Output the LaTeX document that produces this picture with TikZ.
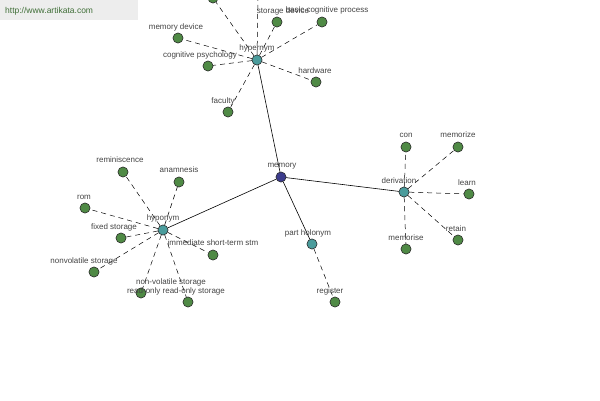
\documentclass[tikz,border=0pt]{standalone}
\usepackage{fontspec}
\setmainfont{Liberation Sans}
\definecolor{leafc}{HTML}{4F8A45}
\definecolor{midc}{HTML}{4A9C9C}
\definecolor{rootc}{HTML}{3C3C8C}
\definecolor{txt}{HTML}{444444}
\begin{document}
\begin{tikzpicture}[x=1pt,y=-1pt,
  leaf/.style={circle,draw=black!80,fill=leafc,inner sep=0pt,minimum size=10pt,line width=0.5pt},
  mid/.style={circle,draw=black!80,fill=midc,inner sep=0pt,minimum size=10pt,line width=0.5pt},
  root/.style={circle,draw=black!80,fill=rootc,inner sep=0pt,minimum size=10pt,line width=0.5pt},
  lbl/.style={font=\fontsize{8}{9}\selectfont,text=txt,inner sep=0pt},
  dsh/.style={dashed,dash pattern=on 5pt off 4pt,line width=0.5pt},
  sol/.style={line width=0.6pt}]
\useasboundingbox (0,0) rectangle (600,400);
\fill[white] (0,0) rectangle (600,400);
\fill[black!7] (0,0) rectangle (138,20);
\node[lbl,font=\fontsize{8.5}{9}\selectfont,text=leafc!80!black,anchor=west] (wm) at (5,11) {http://www.artikata.com};
% hub nodes
\node[root] (memory) at (281,177) {};
\node[mid] (hyper) at (257,60) {};
\node[mid] (hypo) at (163,230) {};
\node[mid] (deriv) at (404,192) {};
\node[mid] (part) at (312,244) {};
\draw[sol] (memory) -- (hyper);
\draw[sol] (memory) -- (hypo);
\draw[sol] (memory) -- (deriv);
\draw[sol] (memory) -- (part);
% hypernym leaves
\coordinate (top1) at (258,-8);
\node[leaf] (h0) at (213,-2) {};
\node[leaf] (h1) at (277,22) {};
\node[leaf] (h2) at (322,22) {};
\node[leaf] (h3) at (178,38) {};
\node[leaf] (h4) at (208,66) {};
\node[leaf] (h5) at (316,82) {};
\node[leaf] (h6) at (228,112) {};
\foreach \n in {top1,h0,h1,h2,h3,h4,h5,h6} \draw[dsh] (hyper) -- (\n);
% hyponym leaves
\node[leaf] (y1) at (123,172) {};
\node[leaf] (y2) at (179,182) {};
\node[leaf] (y3) at (85,208) {};
\node[leaf] (y4) at (121,238) {};
\node[leaf] (y5) at (94,272) {};
\node[leaf] (y6) at (141,293) {};
\node[leaf] (y7) at (188,302) {};
\node[leaf] (y8) at (213,255) {};
\foreach \n in {y1,y2,y3,y4,y5,y6,y7,y8} \draw[dsh] (hypo) -- (\n);
% derivation leaves
\node[leaf] (d1) at (406,147) {};
\node[leaf] (d2) at (458,147) {};
\node[leaf] (d3) at (469,194) {};
\node[leaf] (d4) at (458,240) {};
\node[leaf] (d5) at (406,249) {};
\foreach \n in {d1,d2,d3,d4,d5} \draw[dsh] (deriv) -- (\n);
% part holonym
\node[leaf] (r1) at (335,302) {};
\draw[dsh] (part) -- (r1);
% redraw nodes on top
\foreach \n in {h0,h1,h2,h3,h4,h5,h6,y1,y2,y3,y4,y5,y6,y7,y8,d1,d2,d3,d4,d5,r1}
  \node[leaf] at (\n) {};
\foreach \n in {hyper,hypo,deriv,part} \node[mid] at (\n) {};
\node[root] at (memory) {};
% labels
\node[lbl] (lmem) at (282,166) {memory};
\node[lbl] (lhyper) at (257,48) {hypernym};
\node[lbl] (lhypo) at (163,218) {hyponym};
\node[lbl] (lder) at (399,181) {derivation};
\node[lbl] (lpart) at (308,233) {part holonym};
\node[lbl] (l1) at (283,11) {storage device};
\node[lbl] (l2) at (327,10) {basic cognitive process};
\node[lbl] (l3) at (176,27) {memory device};
\node[lbl] (l4) at (200,55) {cognitive psychology};
\node[lbl] (l5) at (315,71) {hardware};
\node[lbl] (l6) at (223,101) {faculty};
\node[lbl] (l7) at (120,160) {reminiscence};
\node[lbl] (l8) at (179,170) {anamnesis};
\node[lbl] (l9) at (84,197) {rom};
\node[lbl] (l10) at (114,227) {fixed storage};
\node[lbl] (l11) at (84,261) {nonvolatile storage};
\node[lbl] (l12) at (171,282) {non-volatile storage};
\node[lbl] (l13) at (176,291) {read-only read-only storage};
\node[lbl] (l14) at (213,243) {immediate short-term stm};
\node[lbl] (l15) at (406,135) {con};
\node[lbl] (l16) at (458,135) {memorize};
\node[lbl] (l17) at (467,183) {learn};
\node[lbl] (l18) at (456,229) {retain};
\node[lbl] (l19) at (406,238) {memorise};
\node[lbl] (l20) at (330,291) {register};
\end{tikzpicture}
\end{document}
